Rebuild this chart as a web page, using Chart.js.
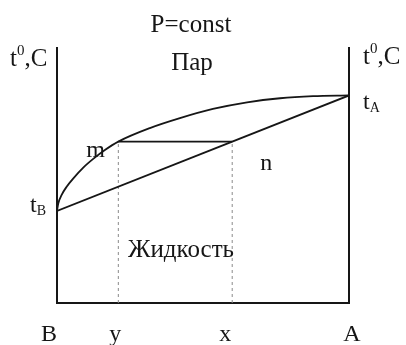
<!DOCTYPE html>
<html>
<head>
<meta charset="utf-8">
<script src="https://cdn.jsdelivr.net/npm/chart.js@4.4.1/dist/chart.umd.min.js"></script>
<style>
  html, body { margin: 0; padding: 0; background: #fff; }
  canvas { display: block; }
</style>
</head>
<body>
<canvas id="phaseChart" width="406" height="345"></canvas>
<script>
// composition axis: 0 = pure B, 1 = pure A
const compTicks = [0, 0.21, 0.6, 1];
const compLabels = ['B', 'y', 'x', 'A'];

// boiling points of the pure components
const tB = 36.1;
const tA = 81.4;

// vapour (dew) curve
const vapourX = [0, 0.0045, 0.016, 0.033, 0.056, 0.090, 0.124, 0.164, 0.21, 0.318, 0.421, 0.534, 0.651, 0.764, 0.877, 1];
const vapourT = [36.1, 39.1, 42.4, 45.6, 48.9, 53.1, 56.5, 60.0, 63.3, 68.6, 72.5, 76.1, 78.7, 80.3, 81.1, 81.4];

// liquid (boiling) line
const liquidX = [0, 1];
const liquidT = [tB, tA];

// tie line m-n
const tieX = [compTicks[1], compTicks[2]];
const tieT = 63.3;

const toPts = (xs, ys) => xs.map((v, i) => ({ x: v, y: ys[i] }));
const ink = '#161616';

const solid = {
    showLine: true,
    fill: false,
    pointRadius: 0,
    borderColor: ink,
    borderWidth: 1.8
};
const dashed = {
    showLine: true,
    fill: false,
    pointRadius: 0,
    borderColor: '#8a8a8a',
    borderWidth: 1,
    borderDash: [3, 3]
};

// text drawn on top of the plot
const serif = '"Liberation Serif", "Times New Roman", serif';
const font = size => `${size}px ${serif}`;

function drawRuns(ctx, x, y, runs) {
    // runs: [text, size, rise]
    runs.forEach(([text, size, rise]) => {
        ctx.font = font(size);
        ctx.fillText(text, x, y - rise);
        x += ctx.measureText(text).width;
    });
}

const diagramText = {
    id: 'diagramText',
    afterDraw(chart) {
        const { ctx, scales: { x, y } } = chart;
        ctx.save();
        ctx.fillStyle = ink;
        ctx.textBaseline = 'alphabetic';

        ctx.textAlign = 'center';
        ctx.font = font(25);
        ctx.fillText('P=const', 191, 32);
        ctx.fillText('Пар', 192, 70);
        ctx.fillText('Жидкость', 181, 257);

        // composition labels under the base line
        const nudge = [-8, -3, -7, 3];
        ctx.font = font(24);
        compTicks.forEach((c, i) => {
            ctx.fillText(compLabels[i], x.getPixelForValue(c) + nudge[i], 341);
        });

        ctx.textAlign = 'left';
        // temperature axis titles
        drawRuns(ctx, 10, 66, [['t', 25, 0], ['0', 15, 11], [',C', 25, 0]]);
        drawRuns(ctx, 363, 64, [['t', 25, 0], ['0', 15, 11], [',C', 25, 0]]);

        // pure component boiling points
        const yA = y.getPixelForValue(tA);
        const yB = y.getPixelForValue(tB);
        drawRuns(ctx, x.right + 14, yA + 14, [['t', 24, 0], ['A', 14, -3]]);
        drawRuns(ctx, x.left - 27, yB + 1, [['t', 24, 0], ['B', 14, -3]]);

        // ends of the tie line
        const yTie = y.getPixelForValue(tieT);
        ctx.font = font(24);
        ctx.fillText('m', x.getPixelForValue(tieX[0]) - 32, yTie + 15);
        ctx.fillText('n', x.getPixelForValue(tieX[1]) + 28, yTie + 28);

        ctx.restore();
    }
};

const axisStyle = {
    grid: { display: false, drawTicks: false },
    ticks: { display: false },
    border: { display: true, color: ink, width: 2 }
};

const ctx = document.getElementById('phaseChart').getContext('2d');
const phaseChart = new Chart(ctx, {
    type: 'scatter',
    data: {
        datasets: [
            Object.assign({ data: toPts(vapourX, vapourT), cubicInterpolationMode: 'monotone' }, solid),
            Object.assign({ data: toPts(liquidX, liquidT) }, solid),
            Object.assign({ data: tieX.map(v => ({ x: v, y: tieT })) }, solid),
            Object.assign({ data: [{ x: tieX[0], y: 0 }, { x: tieX[0], y: tieT }] }, dashed),
            Object.assign({ data: [{ x: tieX[1], y: 0 }, { x: tieX[1], y: tieT }] }, dashed)
        ]
    },
    options: {
        responsive: false,
        animation: false,
        layout: {
            padding: { left: 57, right: 57, top: 48, bottom: 42 }
        },
        scales: {
            x: Object.assign({ type: 'linear', position: 'bottom', min: 0, max: 1 }, axisStyle),
            y: Object.assign({ type: 'linear', position: 'left', min: 0, max: 100 }, axisStyle),
            yRight: Object.assign({ type: 'linear', position: 'right', min: 0, max: 100 }, axisStyle)
        },
        plugins: {
            legend: { display: false },
            tooltip: { enabled: false }
        }
    },
    plugins: [diagramText]
});
</script>
</body>
</html>
